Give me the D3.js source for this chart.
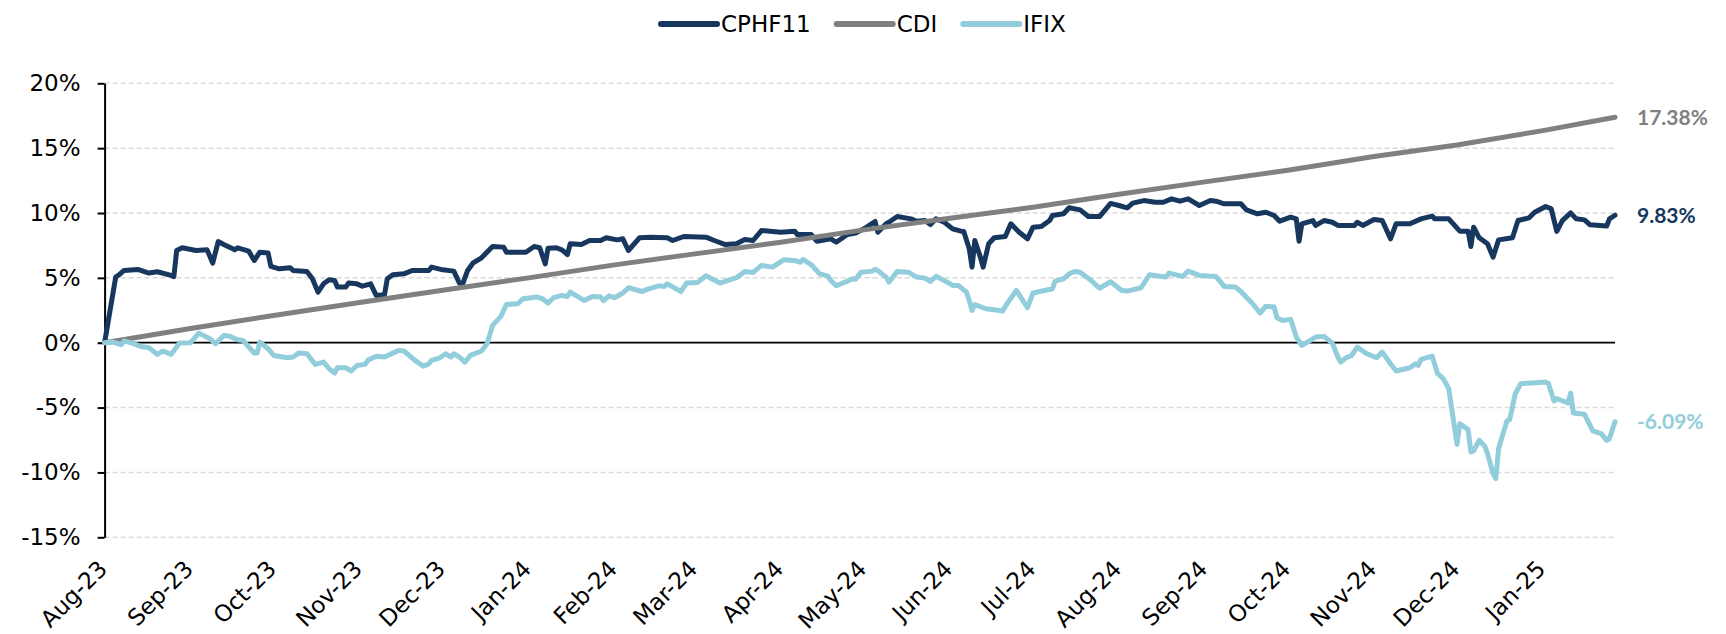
<!DOCTYPE html>
<html>
<head>
<meta charset="utf-8">
<script src="https://cdn.jsdelivr.net/npm/d3@7"></script>
<style>
  body { margin: 0; background: #fff; }
  svg { display: block; }
</style>
</head>
<body>
<div id="chart"></div>
<script>

// series names / colors
var seriesNames = ['CPHF11', 'CDI', 'IFIX'];
var seriesColors = ['#17375e', '#808080', '#92cddc'];

// y axis ticks (%)
var yTicks = [-15, -10, -5, 0, 5, 10, 15, 20];

// CPHF11 cumulative return (%)
var cphfDates = ['2023-08-01','2023-08-05','2023-08-06','2023-08-08','2023-08-13','2023-08-17','2023-08-20','2023-08-25','2023-08-26','2023-08-27',
  '2023-08-29','2023-09-03','2023-09-07','2023-09-09','2023-09-11','2023-09-13','2023-09-17','2023-09-18','2023-09-22','2023-09-24',
  '2023-09-26','2023-09-29','2023-09-30','2023-10-03','2023-10-07','2023-10-08','2023-10-13','2023-10-15','2023-10-17','2023-10-19',
  '2023-10-21','2023-10-23','2023-10-24','2023-10-27','2023-10-28','2023-10-31','2023-11-02','2023-11-05','2023-11-07','2023-11-10',
  '2023-11-11','2023-11-13','2023-11-17','2023-11-20','2023-11-26','2023-11-27','2023-12-01','2023-12-05','2023-12-07','2023-12-08',
  '2023-12-10','2023-12-12','2023-12-15','2023-12-19','2023-12-23','2023-12-24','2023-12-31','2024-01-03','2024-01-05','2024-01-07',
  '2024-01-08','2024-01-11','2024-01-13','2024-01-15','2024-01-16','2024-01-20','2024-01-23','2024-01-27','2024-01-29','2024-02-02',
  '2024-02-04','2024-02-06','2024-02-10','2024-02-14','2024-02-20','2024-02-22','2024-02-26','2024-03-05','2024-03-08','2024-03-12',
  '2024-03-16','2024-03-19','2024-03-22','2024-03-25','2024-04-01','2024-04-06','2024-04-07','2024-04-12','2024-04-14','2024-04-19',
  '2024-04-21','2024-04-25','2024-04-28','2024-05-02','2024-05-05','2024-05-06','2024-05-09','2024-05-10','2024-05-13','2024-05-18',
  '2024-05-20','2024-05-23','2024-05-25','2024-05-27','2024-05-30','2024-06-02','2024-06-05','2024-06-06','2024-06-08','2024-06-09',
  '2024-06-10','2024-06-12','2024-06-13','2024-06-15','2024-06-17','2024-06-21','2024-06-23','2024-06-26','2024-06-29','2024-07-01',
  '2024-07-04','2024-07-07','2024-07-08','2024-07-12','2024-07-14','2024-07-18','2024-07-21','2024-07-25','2024-07-29','2024-08-01',
  '2024-08-04','2024-08-06','2024-08-10','2024-08-14','2024-08-17','2024-08-20','2024-08-23','2024-08-26','2024-08-30','2024-09-03',
  '2024-09-05','2024-09-08','2024-09-14','2024-09-16','2024-09-20','2024-09-23','2024-09-26','2024-09-28','2024-10-02','2024-10-04',
  '2024-10-05','2024-10-06','2024-10-10','2024-10-11','2024-10-14','2024-10-17','2024-10-19','2024-10-25','2024-10-26','2024-10-28',
  '2024-11-01','2024-11-04','2024-11-07','2024-11-09','2024-11-14','2024-11-18','2024-11-22','2024-11-23','2024-11-28','2024-12-02',
  '2024-12-05','2024-12-06','2024-12-07','2024-12-09','2024-12-12','2024-12-14','2024-12-16','2024-12-21','2024-12-23','2024-12-27',
  '2024-12-29','2025-01-02','2025-01-04','2025-01-06','2025-01-08','2025-01-11','2025-01-13','2025-01-16','2025-01-18','2025-01-24',
  '2025-01-25','2025-01-27'];
var cphfValues = [0, 5.06, 5.20, 5.57, 5.65, 5.37, 5.47, 5.19, 5.10, 7.11,
  7.32, 7.11, 7.16, 6.14, 7.80, 7.57, 7.16, 7.32, 7.06, 6.34,
  6.98, 6.91, 5.88, 5.70, 5.78, 5.57, 5.49, 4.93, 3.90, 4.54,
  4.85, 4.80, 4.29, 4.29, 4.60, 4.54, 4.36, 4.54, 3.65, 3.70,
  4.93, 5.24, 5.31, 5.57, 5.57, 5.83, 5.62, 5.52, 4.60, 4.42,
  5.57, 6.16, 6.55, 7.42, 7.37, 6.98, 6.98, 7.42, 7.32, 6.08,
  7.29, 7.32, 7.16, 6.80, 7.63, 7.57, 7.88, 7.88, 8.09, 7.93,
  8.01, 7.11, 8.09, 8.14, 8.09, 7.88, 8.19, 8.14, 7.88, 7.57,
  7.63, 7.96, 7.88, 8.65, 8.52, 8.60, 8.34, 8.34, 7.83, 8.01,
  7.75, 8.34, 8.45, 8.91, 9.35, 8.52, 9.17, 9.29, 9.73, 9.55,
  9.37, 9.42, 9.11, 9.55, 9.29, 8.78, 8.60, 8.58, 7.24, 5.83,
  7.88, 6.60, 5.83, 7.63, 8.09, 8.19, 9.17, 8.52, 8.01, 8.91,
  8.96, 9.42, 9.81, 9.94, 10.40, 10.24, 9.73, 9.73, 10.74, 10.58,
  10.40, 10.76, 10.96, 10.83, 10.83, 11.09, 10.91, 11.09, 10.58, 10.96,
  10.91, 10.71, 10.71, 10.24, 9.94, 10.06, 9.81, 9.37, 9.68, 9.55,
  7.83, 9.17, 9.42, 9.04, 9.42, 9.29, 9.04, 9.04, 9.29, 9.04,
  9.50, 9.42, 8.01, 9.17, 9.17, 9.55, 9.76, 9.55, 9.55, 8.60,
  8.60, 7.42, 8.91, 8.09, 7.63, 6.60, 7.93, 8.09, 9.42, 9.63,
  10.06, 10.50, 10.32, 8.58, 9.42, 10.01, 9.55, 9.47, 9.09, 8.99,
  9.55, 9.83];

// CDI cumulative return (%)
var cdiDates = ['2023-08-01','2023-09-01','2023-10-01','2023-11-01','2023-12-01','2024-01-01','2024-02-01','2024-03-01','2024-04-01','2024-05-01',
  '2024-06-01','2024-07-01','2024-08-01','2024-09-01','2024-10-01','2024-11-01','2024-12-01','2025-01-01','2025-01-27'];
var cdiValues = [0, 1.10, 2.10, 3.10, 4.05, 5.00, 6.00, 6.85, 7.75, 8.70,
  9.60, 10.45, 11.45, 12.40, 13.30, 14.35, 15.25, 16.35, 17.38];

// IFIX cumulative return (%)
var ifixDates = ['2023-08-01','2023-08-04','2023-08-07','2023-08-08','2023-08-11','2023-08-14','2023-08-17','2023-08-20','2023-08-22','2023-08-25',
  '2023-08-28','2023-09-01','2023-09-04','2023-09-08','2023-09-10','2023-09-13','2023-09-15','2023-09-18','2023-09-20','2023-09-22',
  '2023-09-24','2023-09-25','2023-09-26','2023-09-29','2023-10-01','2023-10-06','2023-10-08','2023-10-10','2023-10-13','2023-10-16',
  '2023-10-19','2023-10-21','2023-10-23','2023-10-24','2023-10-27','2023-10-29','2023-10-31','2023-11-03','2023-11-04','2023-11-07',
  '2023-11-10','2023-11-15','2023-11-17','2023-11-21','2023-11-24','2023-11-26','2023-11-27','2023-11-30','2023-12-02','2023-12-04',
  '2023-12-05','2023-12-07','2023-12-09','2023-12-11','2023-12-15','2023-12-17','2023-12-19','2023-12-22','2023-12-24','2023-12-28',
  '2023-12-30','2024-01-04','2024-01-06','2024-01-08','2024-01-10','2024-01-13','2024-01-15','2024-01-16','2024-01-18','2024-01-21',
  '2024-01-24','2024-01-27','2024-01-28','2024-01-30','2024-02-01','2024-02-04','2024-02-06','2024-02-11','2024-02-13','2024-02-17',
  '2024-02-19','2024-02-20','2024-02-25','2024-02-27','2024-03-02','2024-03-05','2024-03-10','2024-03-16','2024-03-19','2024-03-22',
  '2024-03-25','2024-03-29','2024-04-02','2024-04-06','2024-04-08','2024-04-09','2024-04-12','2024-04-15','2024-04-18','2024-04-19',
  '2024-04-21','2024-04-25','2024-04-27','2024-04-28','2024-04-30','2024-05-04','2024-05-05','2024-05-06','2024-05-09','2024-05-10',
  '2024-05-13','2024-05-17','2024-05-20','2024-05-23','2024-05-25','2024-05-27','2024-05-31','2024-06-02','2024-06-04','2024-06-07',
  '2024-06-08','2024-06-09','2024-06-10','2024-06-14','2024-06-17','2024-06-20','2024-06-22','2024-06-25','2024-06-29','2024-07-01',
  '2024-07-08','2024-07-09','2024-07-12','2024-07-14','2024-07-16','2024-07-18','2024-07-22','2024-07-25','2024-07-29','2024-08-02',
  '2024-08-04','2024-08-09','2024-08-12','2024-08-18','2024-08-19','2024-08-24','2024-08-26','2024-08-30','2024-09-05','2024-09-08',
  '2024-09-12','2024-09-14','2024-09-18','2024-09-21','2024-09-23','2024-09-26','2024-09-27','2024-09-29','2024-10-02','2024-10-04',
  '2024-10-06','2024-10-11','2024-10-14','2024-10-17','2024-10-19','2024-10-20','2024-10-22','2024-10-24','2024-10-26','2024-10-29',
  '2024-11-02','2024-11-04','2024-11-07','2024-11-09','2024-11-14','2024-11-16','2024-11-17','2024-11-18','2024-11-22','2024-11-24',
  '2024-11-26','2024-11-28','2024-11-29','2024-12-01','2024-12-02','2024-12-05','2024-12-06','2024-12-07','2024-12-09','2024-12-11',
  '2024-12-12','2024-12-14','2024-12-15','2024-12-16','2024-12-19','2024-12-20','2024-12-22','2024-12-24','2025-01-02','2025-01-03',
  '2025-01-05','2025-01-06','2025-01-10','2025-01-11','2025-01-12','2025-01-16','2025-01-19','2025-01-22','2025-01-24','2025-01-25',
  '2025-01-27'];
var ifixValues = [0, 0.05, -0.15, 0.13, -0.03, -0.28, -0.39, -0.90, -0.64, -0.90,
  -0.03, 0, 0.74, 0.31, -0.08, 0.56, 0.51, 0.23, 0.18, -0.33,
  -0.80, -0.80, 0.05, -0.46, -0.98, -1.16, -1.10, -0.80, -0.85, -1.67,
  -1.49, -2.00, -2.34, -1.93, -1.93, -2.18, -1.75, -1.67, -1.36, -1.05,
  -1.10, -0.59, -0.64, -1.36, -1.82, -1.62, -1.36, -1.16, -0.85, -1.10,
  -0.85, -1.10, -1.49, -0.98, -0.64, -0.08, 1.34, 2.03, 2.95, 3.00,
  3.39, 3.52, 3.39, 3.06, 3.47, 3.65, 3.57, 3.90, 3.65, 3.26,
  3.57, 3.52, 3.24, 3.62, 3.47, 3.83, 4.24, 3.95, 4.13, 4.39,
  4.34, 4.54, 3.95, 4.60, 4.65, 5.16, 4.60, 5.01, 5.49, 5.42,
  5.96, 5.83, 6.39, 6.34, 6.21, 6.42, 6.01, 5.31, 5.13, 4.80,
  4.39, 4.75, 4.93, 4.90, 5.44, 5.52, 5.67, 5.57, 5.06, 4.67,
  5.49, 5.44, 5.06, 4.98, 4.72, 5.13, 4.67, 4.42, 4.42, 3.90,
  3.26, 2.49, 2.95, 2.62, 2.54, 2.44, 3.13, 4.03, 2.70, 3.83,
  4.16, 4.75, 4.93, 5.31, 5.49, 5.44, 4.80, 4.20, 4.70, 4.03,
  3.98, 4.24, 5.24, 5.06, 5.37, 5.11, 5.52, 5.19, 5.11, 4.34,
  4.29, 3.95, 3.06, 2.28, 2.82, 2.75, 1.93, 1.72, 1.80, 0.44,
  -0.21, 0.44, 0.49, -0.03, -1.10, -1.49, -1.16, -0.98, -0.33, -0.80,
  -1.16, -0.72, -1.62, -2.18, -1.93, -1.62, -1.75, -1.28, -1.03, -2.39,
  -2.77, -3.54, -4.96, -7.83, -6.24, -6.70, -8.42, -8.34, -7.52, -7.98,
  -8.55, -10.09, -10.47, -8.16, -6.03, -5.93, -3.93, -3.16, -3.03, -3.16,
  -4.49, -4.31, -4.65, -3.88, -5.42, -5.52, -6.80, -7.01, -7.52, -7.39,
  -6.09];

var width = 1726,
	height = 634,
	plotLeft = 104.6,
	plotRight = 1615,
	plotTop = 83.3,
	plotBottom = 537.3,
	font = '"DejaVu Sans", Verdana, sans-serif';

var parse = d3.timeParse('%Y-%m-%d');

// plain hyphen for negatives, like the original
var pct = d3.formatLocale({decimal: '.', thousands: ',', grouping: [3], currency: ['', ''], minus: '-'}).format('.2f');

function toPoints(dates, values) {
	return dates.map(function(d, i){ return {date: parse(d), value: values[i]}; });
}

var series = [
	{name: seriesNames[0], color: seriesColors[0], points: toPoints(cphfDates, cphfValues)},
	{name: seriesNames[1], color: seriesColors[1], points: toPoints(cdiDates, cdiValues)},
	{name: seriesNames[2], color: seriesColors[2], points: toPoints(ifixDates, ifixValues)}
];

var xScale = d3.scaleTime()
	.domain([parse(cphfDates[0]), parse(cphfDates[cphfDates.length - 1])])
	.range([plotLeft, plotRight]);

var yScale = d3.scaleLinear()
	.domain([yTicks[0], yTicks[yTicks.length - 1]])
	.range([plotBottom, plotTop]);

var svg = d3.select('#chart').append('svg')
	.attr('width', width)
	.attr('height', height)
	.style('background', '#fff');

// dashed gridlines
svg.append('g')
  .selectAll('line').data(yTicks.filter(function(t){ return t !== 0; }))
	.enter().append('line')
	.attr('x1', plotLeft)
	.attr('x2', plotRight)
	.attr('y1', function(d){ return yScale(d); })
	.attr('y2', function(d){ return yScale(d); })
	.attr('stroke', '#d9d9d9')
	.attr('stroke-width', 1.5)
	.attr('stroke-dasharray', '5,3');

// zero line
svg.append('line')
	.attr('x1', plotLeft)
	.attr('x2', plotRight)
	.attr('y1', yScale(0))
	.attr('y2', yScale(0))
	.attr('stroke', '#000')
	.attr('stroke-width', 1.75);

// y axis
var yAxis = svg.append('g')
	.attr('transform', 'translate(' + plotLeft + ',0)')
	.call(d3.axisLeft(yScale)
		.tickValues(yTicks)
		.tickSize(7)
		.tickSizeOuter(0)
		.tickPadding(17)
		.tickFormat(function(d){ return d + '%'; }));

yAxis.select('.domain').attr('stroke', '#000').attr('stroke-width', 2);
yAxis.selectAll('.tick line').attr('stroke', '#000').attr('stroke-width', 2);
yAxis.selectAll('.tick text')
	.attr('fill', '#000')
	.style('font-family', font)
	.style('font-size', '23px');

// month labels, rotated
var months = xScale.ticks(d3.timeMonth.every(1));
var fmt = d3.timeFormat('%b-%y');

svg.append('g')
  .selectAll('text').data(months)
	.enter().append('text')
	.attr('transform', function(d){ return 'translate(' + (xScale(d) + 4) + ',' + (plotBottom + 33) + ') rotate(-45)'; })
	.attr('text-anchor', 'end')
	.attr('fill', '#000')
	.style('font-family', font)
	.style('font-size', '23px')
	.text(function(d){ return fmt(d); });

// lines
var line = d3.line()
	.x(function(d){ return xScale(d.date); })
	.y(function(d){ return yScale(d.value); });

svg.append('g')
  .selectAll('path').data(series)
	.enter().append('path')
	.attr('d', function(d){ return line(d.points); })
	.attr('fill', 'none')
	.attr('stroke', function(d){ return d.color; })
	.attr('stroke-width', 5)
	.attr('stroke-linejoin', 'round')
	.attr('stroke-linecap', 'round');

// last value labels
svg.append('g')
  .selectAll('text').data(series)
	.enter().append('text')
	.attr('x', plotRight + 22)
	.attr('y', function(d){ return yScale(d.points[d.points.length - 1].value); })
	.attr('dy', '0.35em')
	.attr('fill', function(d){ return d.color; })
	.style('font-family', 'Lato, "Open Sans", sans-serif')
	.style('font-weight', 'bold')
	.style('font-size', '21px')
	.text(function(d){ return pct(d.points[d.points.length - 1].value) + '%'; });

// legend
var legend = svg.append('g').attr('transform', 'translate(661,24)');
var lx = 0;
series.forEach(function(s){
	legend.append('line')
		.attr('x1', lx).attr('x2', lx + 56)
		.attr('y1', 0).attr('y2', 0)
		.attr('stroke', s.color)
		.attr('stroke-width', 6)
		.attr('stroke-linecap', 'round');
	var t = legend.append('text')
		.attr('x', lx + 60)
		.attr('dy', '0.35em')
		.attr('fill', '#000')
		.style('font-family', font)
		.style('font-size', '23px')
		.text(s.name);
	lx += 60 + t.node().getComputedTextLength() + 26;
});

</script>
</body>
</html>
